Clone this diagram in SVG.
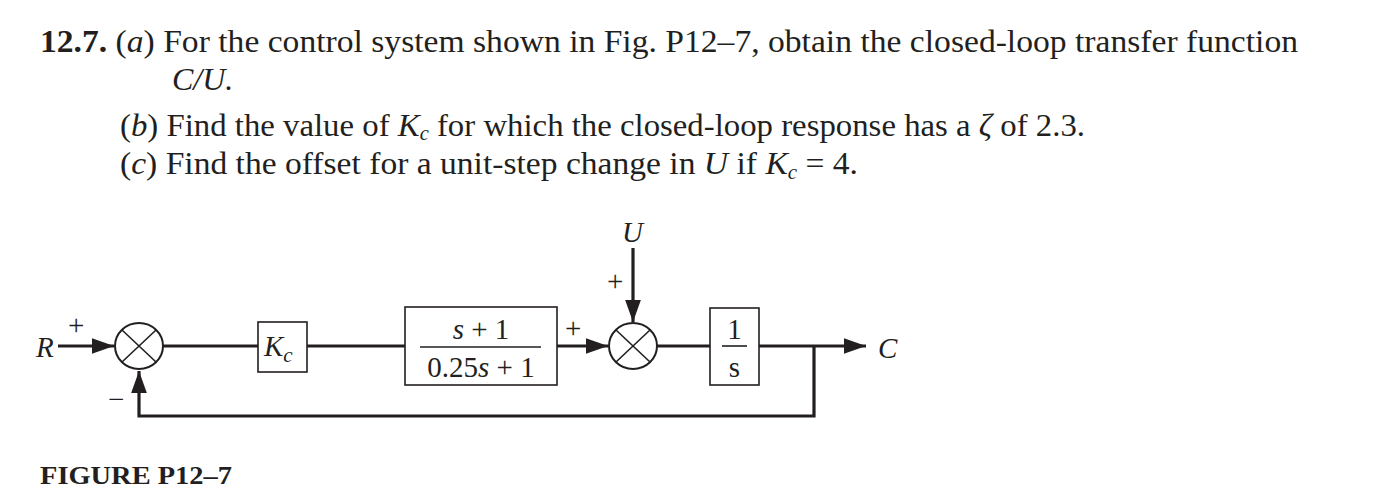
<svg xmlns="http://www.w3.org/2000/svg" width="1392" height="494" viewBox="0 0 1392 494">
<style>
text{font-family:"Liberation Serif","Times New Roman",serif;fill:#231f20}
.t{font-size:32px}
.l{font-size:29px}
.i{font-style:italic}
.b{font-weight:bold}
.box{fill:#fff;stroke:#231f20;stroke-width:1.6}
.sum{fill:#fff;stroke:#231f20;stroke-width:2}
.x{stroke:#231f20;stroke-width:1.6}
.c{fill:none;stroke:#231f20;stroke-width:3.2}
</style>
<defs><marker id="a" markerWidth="7" markerHeight="5" refX="7" refY="2.5" orient="auto" markerUnits="strokeWidth"><path d="M0,0L7,2.5L0,5z" fill="#231f20"/></marker></defs>
<rect width="1392" height="494" fill="#fff"/>
<text class="t" x="40" y="52" textLength="1258" lengthAdjust="spacingAndGlyphs"><tspan class="b">12.7.</tspan> (<tspan class="i">a</tspan>) For the control system shown in Fig. P12–7, obtain the closed-loop transfer function</text>
<text class="t i" x="172" y="90">C/U.</text>
<text class="t" x="120" y="136" textLength="965" lengthAdjust="spacingAndGlyphs">(<tspan class="i">b</tspan>) Find the value of <tspan class="i">K</tspan><tspan class="i" font-size="20" dy="4">c</tspan><tspan dy="-4"> for which the closed-loop response has a </tspan><tspan class="i">ζ</tspan> of 2.3.</text>
<text class="t" x="120" y="174" textLength="738" lengthAdjust="spacingAndGlyphs">(<tspan class="i">c</tspan>) Find the offset for a unit-step change in <tspan class="i">U</tspan> if <tspan class="i">K</tspan><tspan class="i" font-size="20" dy="5">c</tspan><tspan dy="-5"> = 4.</tspan></text>
<g id="connectors">
<path class="c" d="M58,346H114" marker-end="url(#a)"/>
<path class="c" d="M163,346H258"/>
<path class="c" d="M307,346H405"/>
<path class="c" d="M557,346H608" marker-end="url(#a)"/>
<path class="c" d="M633,248V322" marker-end="url(#a)"/>
<path class="c" d="M657,346H710"/>
<path class="c" d="M759,346H866" marker-end="url(#a)"/>
<path class="c" d="M814,346V416H139V371" marker-end="url(#a)"/>
</g>
<g id="sum1"><ellipse class="sum" cx="139" cy="346" rx="24" ry="23"/><path class="x" d="M122,330L156,362M156,330L122,362"/></g>
<g id="kc"><rect class="box" x="258" y="322" width="49" height="50"/><text class="l i" x="264" y="356">K<tspan font-size="21" dy="6">c</tspan></text></g>
<g id="g1"><rect class="box" x="405" y="307" width="152" height="78"/><text class="l" x="481" y="339" text-anchor="middle"><tspan class="i">s</tspan> + 1</text><path class="x" d="M420,347H541"/><text class="l" x="481" y="377" text-anchor="middle">0.25<tspan class="i">s</tspan> + 1</text></g>
<g id="sum2"><ellipse class="sum" cx="633" cy="346" rx="24" ry="23"/><path class="x" d="M616,330L650,362M650,330L616,362"/></g>
<g id="g2"><rect class="box" x="710" y="308" width="49" height="77"/><text class="l" x="734.5" y="339" text-anchor="middle">1</text><path class="x" d="M722,346H747"/><text class="l" x="734.5" y="377" text-anchor="middle">s</text></g>
<g id="labels">
<text class="l i" x="36" y="357">R</text>
<text class="l" x="68" y="335">+</text>
<text class="l" x="108" y="409">−</text>
<text class="l" x="565" y="338">+</text>
<text class="l" x="607" y="291">+</text>
<text class="l i" x="622" y="242">U</text>
<text class="l i" x="878" y="358">C</text>
</g>
<text x="40" y="484" font-size="25" class="b" textLength="192" lengthAdjust="spacingAndGlyphs">FIGURE P12–7</text>
</svg>
